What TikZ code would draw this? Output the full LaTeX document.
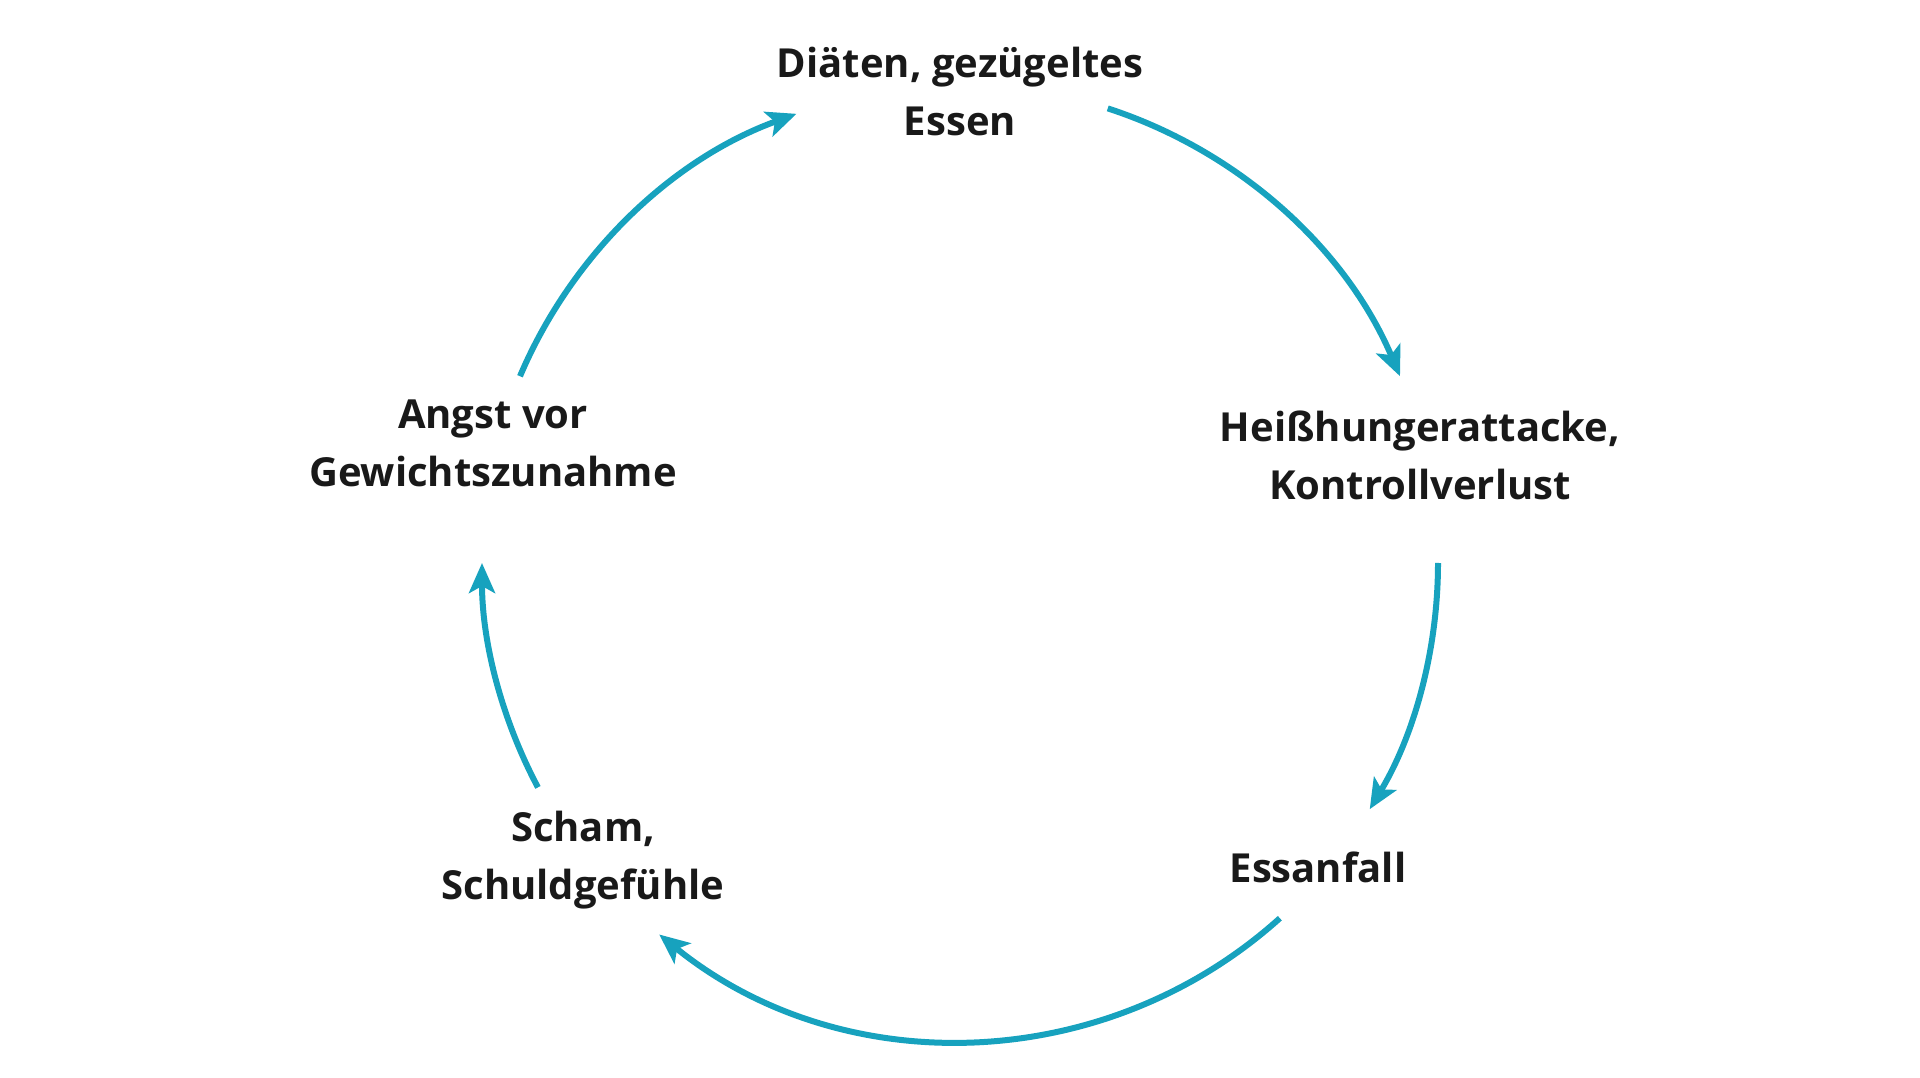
\documentclass[tikz,border=0pt]{standalone}
\usepackage{fontspec}
\setmainfont{Open Sans}
\usetikzlibrary{arrows.meta,calc}
\begin{document}
\begin{tikzpicture}[x=1pt,y=1pt,
  lbl/.style={align=center,font=\fontsize{40}{58}\selectfont\bfseries,text=black!90},
  cyc/.style={draw={rgb,255:red,23;green,162;blue,190},line width=6pt,-{Stealth[length=30pt,width=26pt,inset=7pt]}}]
\useasboundingbox (0,0) rectangle (1920,1077);
\coordinate (c) at (960,514);
\node[lbl] (top) at (960,985) {Diäten, gezügeltes\\Essen};
\node[lbl] (right) at (1420,622) {Heißhungerattacke,\\Kontrollverlust};
\node[lbl] (bot) at (1318,210) {Essanfall};
\node[lbl] (scham) at (583,217) {Scham,\\Schuldgefühle};
\node[lbl] (angst) at (493,634) {Angst vor\\Gewichtszunahme};
\draw[cyc] ($(c)+(72:478)$) arc[start angle=72,end angle=23,radius=478];
\draw[cyc] ($(c)+(0:478)$) arc[start angle=0,end angle=-31,radius=478];
\draw[cyc] ($(c)+(-48:478)$) arc[start angle=-48,end angle=-129,radius=478];
\draw[cyc] ($(c)+(-152:478)$) arc[start angle=-152,end angle=-180,radius=478];
\draw[cyc] ($(c)+(157:478)$) arc[start angle=157,end angle=110,radius=478];
\end{tikzpicture}
\end{document}
